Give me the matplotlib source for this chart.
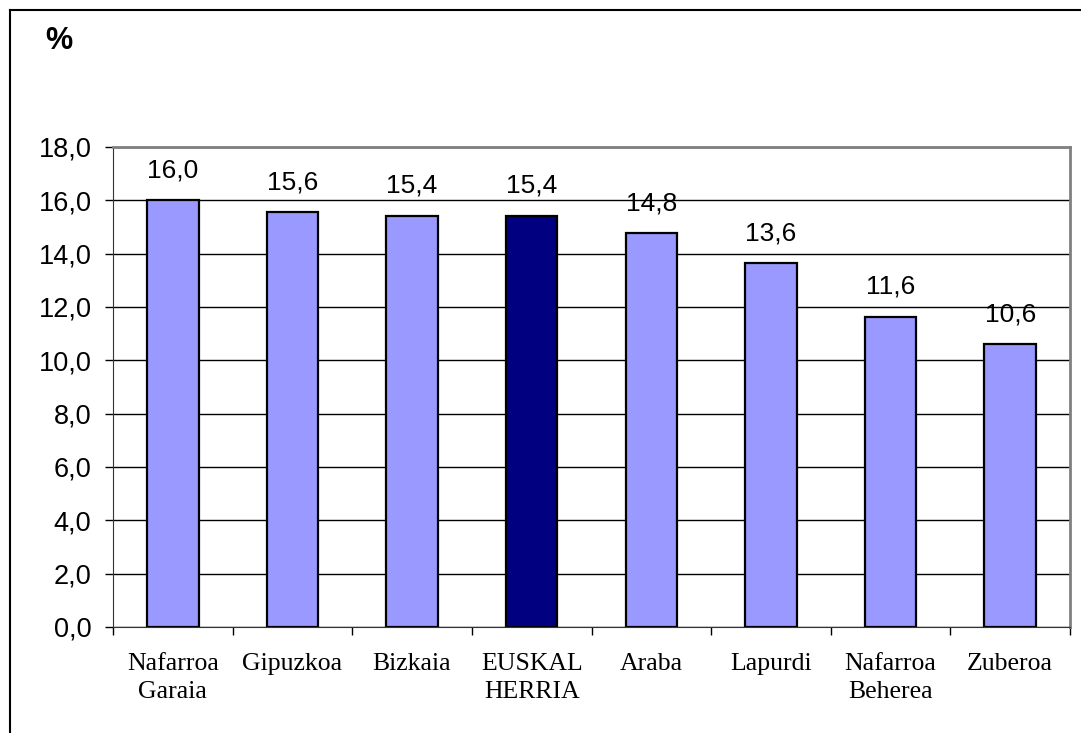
import matplotlib.pyplot as plt
import numpy as np
from matplotlib.lines import Line2D

categories = ["Nafarroa\nGaraia", "Gipuzkoa", "Bizkaia", "EUSKAL\nHERRIA",
              "Araba", "Lapurdi", "Nafarroa\nBeherea", "Zuberoa"]
values = [16.0, 15.56, 15.42, 15.42, 14.76, 13.64, 11.64, 10.61]
highlight = "EUSKAL\nHERRIA"
y_ticks = [0, 2, 4, 6, 8, 10, 12, 14, 16, 18]

light = "#9999FF"
dark = "#000080"

fig = plt.figure(figsize=(10.81, 7.33), dpi=100)
ax = fig.add_axes([113 / 1081, 1 - 627 / 733, (1070 - 113) / 1081, (627 - 147) / 733])

x = np.arange(len(categories))
colors = [dark if c == highlight else light for c in categories]
bars = ax.bar(x, values, width=0.43, color=colors, edgecolor="black", linewidth=1.6, zorder=3)

for xi, v in zip(x, values):
    ax.annotate("{:.1f}".format(v).replace(".", ","), (xi, v), xytext=(0, 13),
                textcoords="offset points", ha="center", va="bottom",
                fontsize=19, family="Liberation Sans", zorder=4)

ax.set_xlim(-0.5, len(categories) - 0.5)
ax.set_ylim(0, 18)
ax.set_yticks(y_ticks)
ax.set_yticklabels(["{:.1f}".format(t).replace(".", ",") for t in y_ticks],
                   fontsize=19.5, family="Liberation Sans")
ax.yaxis.grid(True, color="black", linewidth=1, zorder=0)

# category boundaries as major ticks, names on minor ticks
ax.set_xticks(np.arange(len(categories) + 1) - 0.5)
ax.set_xticklabels([])
ax.set_xticks(x, minor=True)
ax.set_xticklabels(categories, minor=True, fontsize=18.5, family="Liberation Serif",
                   linespacing=1.35)
ax.tick_params(axis="x", which="minor", length=0, pad=19)
ax.tick_params(axis="x", which="major", length=6, width=1, direction="out")
ax.tick_params(axis="y", length=6, width=1, direction="out", pad=9.5)

ax.spines["top"].set_color("#808080")
ax.spines["right"].set_color("#808080")
ax.spines["top"].set_linewidth(2)
ax.spines["right"].set_linewidth(2)
ax.spines["left"].set_color("#333333")
ax.spines["bottom"].set_color("#333333")

fig.text(59 / 1081, 1 - 41 / 733, "%", fontsize=22, fontweight="bold",
         family="Liberation Sans", ha="center", va="center")

# outer frame (top and left edges visible)
fig.add_artist(Line2D([9.5 / 1081, 1], [1 - 9.5 / 733, 1 - 9.5 / 733], color="black", linewidth=1.5))
fig.add_artist(Line2D([9.5 / 1081, 9.5 / 1081], [0, 1 - 9.5 / 733], color="black", linewidth=1.5))

fig.savefig("out.png", dpi=100)
